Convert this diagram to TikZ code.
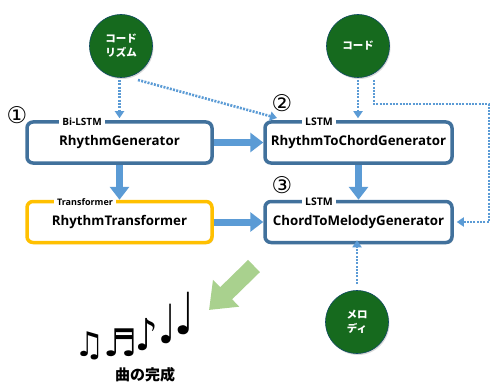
\documentclass[tikz,border=0pt]{standalone}
\usepackage{fontspec}
\setmainfont{Open Sans}
\newfontfamily\jp{Noto Sans CJK JP}
\newfontfamily\dv{DejaVu Sans}
\usetikzlibrary{arrows.meta,shadows,calc}
\definecolor{bord}{RGB}{65,113,156}
\definecolor{arr}{RGB}{91,155,213}
\definecolor{gr}{RGB}{22,106,30}
\definecolor{yel}{RGB}{255,192,0}
\definecolor{lgreen}{RGB}{169,209,142}
\begin{document}
\begin{tikzpicture}[x=1pt,y=-1pt,
  box/.style={draw=bord, line width=3.5pt, rounded corners=6pt, fill=white,
    minimum width=185pt, minimum height=41pt, inner sep=0pt,
    font=\bfseries\fontsize{13.3}{15}\selectfont,
    drop shadow={shadow xshift=1.5pt,shadow yshift=-1.5pt,opacity=0.35}},
  tag/.style={fill=white, inner xsep=3pt, inner ysep=1pt, font=\bfseries\fontsize{10}{10}\selectfont},
  circ/.style={circle, fill=gr, draw=gr!70!blue, line width=0.6pt, minimum size=63pt, inner sep=0pt,
    text=white, align=center, font=\jp\bfseries\fontsize{10.5}{14}\selectfont,
    drop shadow={shadow xshift=1pt,shadow yshift=-1.5pt,opacity=0.3}},
  num/.style={font=\dv\fontsize{23}{23}\selectfont},
  thick arrow/.style={draw=arr, line width=7pt, -{Triangle[width=19pt,length=13pt]}},
  dot arrow/.style={draw=arr, line width=2.6pt, dash pattern=on 2pt off 1.3pt, -{Triangle[width=9pt,length=7pt]}},
  note/.style={inner sep=0pt}
]
\useasboundingbox (0,0) rectangle (494,382);

% circles
\node[circ] (cr) at (121,46) {コード\\リズム};
\node[circ] (cd) at (358,46) {コード};
\node[circ] (ml) at (357,322) {メロ\\ディ};

% boxes
\node[box] (rg) at (119.5,142.5) {RhythmGenerator};
\node[box, minimum width=187pt] (rc) at (358.5,142.5) {RhythmToChordGenerator};
\node[box, draw=yel] (rt) at (119.5,222) {RhythmTransformer};
\node[box, minimum width=187pt] (cm) at (358.5,222) {ChordToMelodyGenerator};

% tags
\node[tag] (t1) at (82,122) {Bi-LSTM};
\node[tag, font=\bfseries\fontsize{10.5}{11}\selectfont] (t2) at (319,122) {LSTM};
\node[tag, font=\bfseries\fontsize{9}{9}\selectfont] (t3) at (85,202) {Transformer};
\node[tag, font=\bfseries\fontsize{10.5}{11}\selectfont] (t4) at (319,202) {LSTM};

% numbers
\node[num] (n1) at (17,115) {①};
\node[num] (n2) at (282,103) {②};
\node[num] (n3) at (282,185) {③};

% thick arrows
\draw[thick arrow] (rg.east) -- (rc.west);
\draw[thick arrow] (rg.south) -- (rt.north);
\draw[thick arrow] (rt.east) -- (cm.west);
\draw[thick arrow] (rc.south) -- (cm.north);

% dotted arrows
\coordinate (a1) at (119.5,80);
\coordinate (a2) at (138,80);
\coordinate (a2e) at (277,118);
\coordinate (b1) at (358,80);
\coordinate (c1) at (374,80);
\coordinate (c2) at (374,104);
\coordinate (c3) at (489,104);
\coordinate (c4) at (489,222);
\coordinate (m1) at (357,284);
\draw[dot arrow] (a1) -- ([yshift=2pt]rg.north);
\draw[dot arrow] (a2) -- (a2e);
\draw[dot arrow] (b1) -- ([yshift=2pt]b1 |- rc.north);
\draw[dot arrow] (c1) -- (c2) -- (c3) -- (c4) -- ([xshift=3pt]cm.east);
\draw[dot arrow] (m1) -- ([yshift=4pt]m1 |- cm.south);

% green arrow
\coordinate (gtail) at (254,266);
\coordinate (gtip) at (209,310);
\draw[draw=lgreen, line width=17pt, -{Triangle[width=36pt,length=24pt]}]
  (gtail) -- (gtip);

% notes
\node[note] (q1) at (90,346) {\dv\fontsize{34}{34}\selectfont ♫};
\node[note] (q2) at (121,343) {\dv\fontsize{38}{38}\selectfont ♬};
\node[note] (q3) at (147,335) {\scalebox{0.8}[1]{\dv\fontsize{44}{44}\selectfont ♪}};
\node[note] (q4) at (167,324) {\scalebox{0.7}[1]{\dv\fontsize{54}{54}\selectfont ♩}};
\node[note] (q5) at (185,313) {\scalebox{0.75}[1]{\dv\fontsize{58}{58}\selectfont ♩}};

\node[font=\jp\bfseries\fontsize{15}{15}\selectfont] (done) at (145,375) {曲の完成};
\end{tikzpicture}
\end{document}
